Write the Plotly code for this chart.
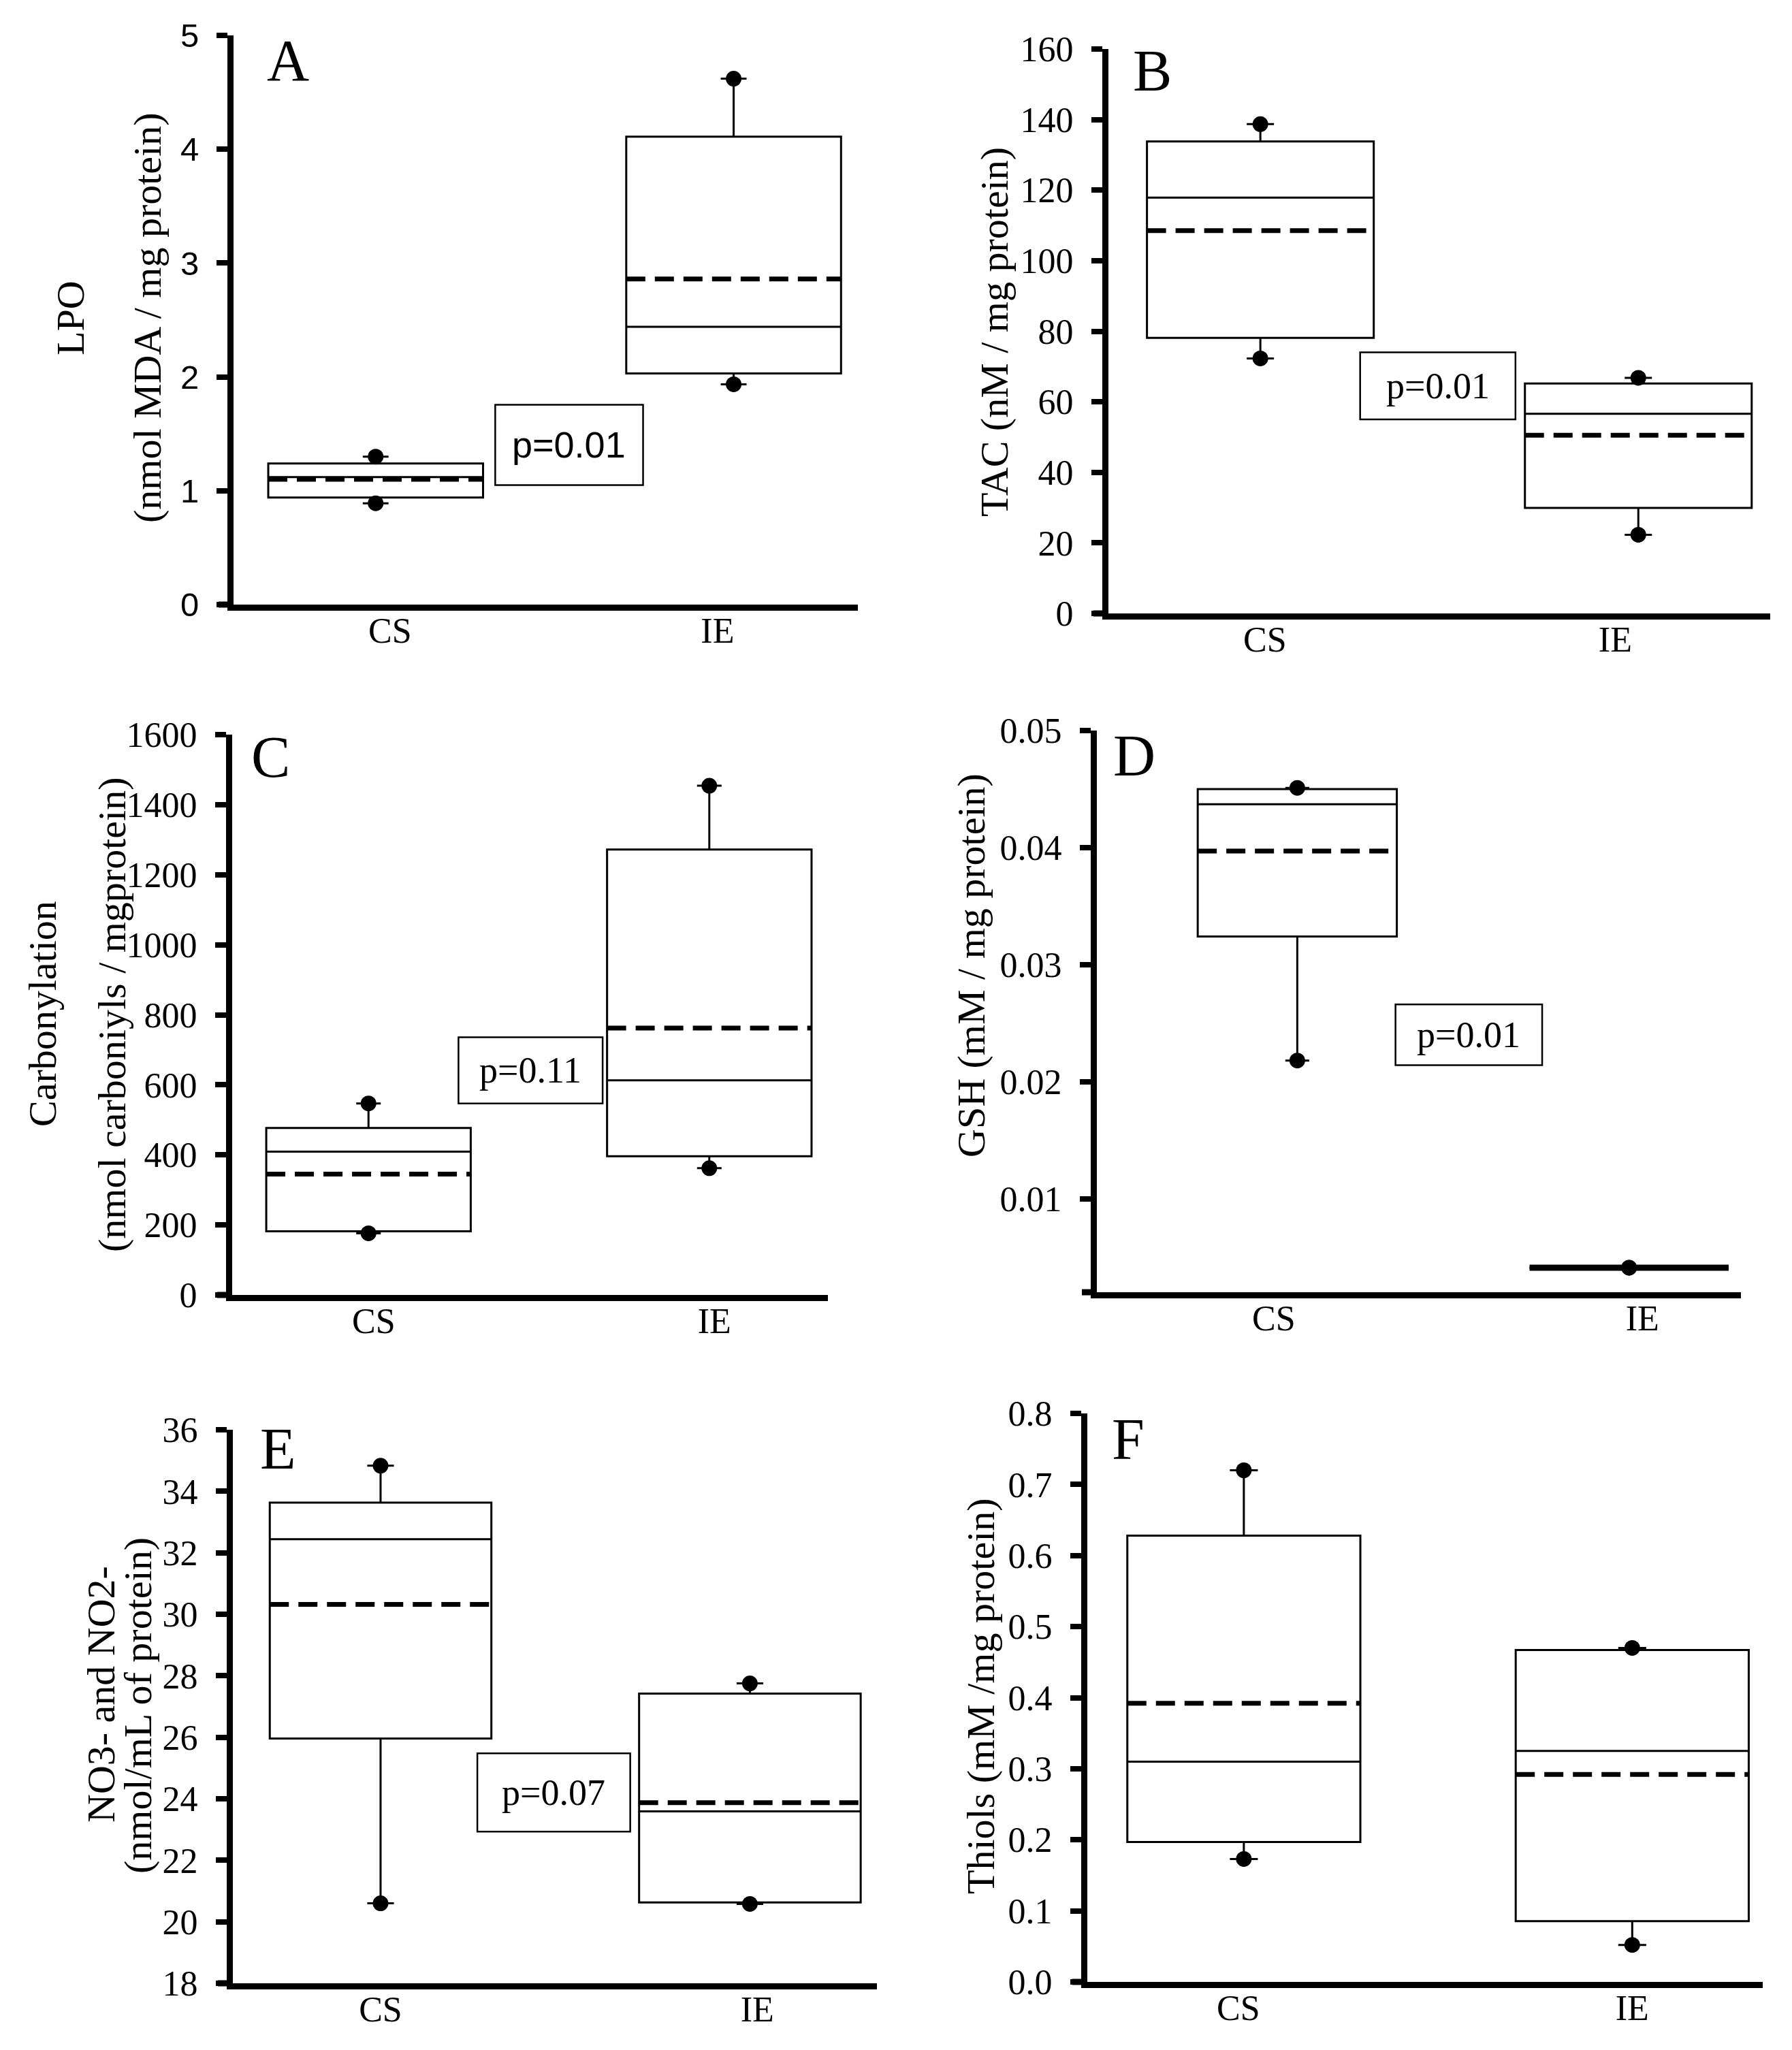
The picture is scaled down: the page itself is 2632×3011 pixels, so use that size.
import plotly.graph_objects as go

groups = ['CS', 'IE']
positions = [1, 2]

# A - LPO
lpo_low = [0.89, 1.935]
lpo_q1 = [0.94, 2.03]
lpo_median = [1.12, 2.44]
lpo_q3 = [1.24, 4.11]
lpo_high = [1.30, 4.62]
lpo_mean = [1.10, 2.86]

# B - TAC
tac_low = [72.3, 22.3]
tac_q1 = [78.1, 29.9]
tac_median = [117.9, 56.6]
tac_q3 = [133.8, 65.2]
tac_high = [138.7, 66.8]
tac_mean = [108.5, 50.5]

# C - Carbonylation
carb_low = [176, 362]
carb_q1 = [182, 396]
carb_median = [409, 613]
carb_q3 = [477, 1272]
carb_high = [547, 1454]
carb_mean = [345, 762]

# D - GSH
gsh_low = [0.0218, 0.0041]
gsh_q1 = [0.0324, 0.0041]
gsh_median = [0.0437, 0.0041]
gsh_q3 = [0.0450, 0.0041]
gsh_high = [0.0451, 0.0041]
gsh_mean = [0.0397, 0.0041]

# E - NO3- and NO2-
no_low = [20.6, 20.58]
no_q1 = [25.96, 20.63]
no_median = [32.44, 23.59]
no_q3 = [33.63, 27.42]
no_high = [34.83, 27.75]
no_mean = [30.32, 23.87]

# F - Thiols
thiol_low = [0.173, 0.052]
thiol_q1 = [0.197, 0.0854]
thiol_median = [0.31, 0.325]
thiol_q3 = [0.628, 0.467]
thiol_high = [0.72, 0.470]
thiol_mean = [0.392, 0.292]

p_values = ['p=0.01', 'p=0.01', 'p=0.11', 'p=0.01', 'p=0.07', None]

W, H = 2632, 3011
OFF = 8  # page body margin

panels = [
    dict(letter='A', data=(lpo_low, lpo_q1, lpo_median, lpo_q3, lpo_high, lpo_mean),
         px=(343, 52, 1260, 888), xr=[0.603, 2.347], yr=[0, 5], ytv=[0, 1, 2, 3, 4, 5], fmt='d',
         lab=[1.04, 1.955], tfont='Liberation Sans', tsize=49,
         titles=[('LPO', 103, 467), ('(nmol MDA / mg protein)', 216, 467)],
         lpos=(0.051, 0.956), pbox=(1.334, 1.747, 1.05, 1.756), pfont='Liberation Sans'),
    dict(letter='B', data=(tac_low, tac_q1, tac_median, tac_q3, tac_high, tac_mean),
         px=(1628, 72, 2600, 901), xr=[0.598, 2.349], yr=[0, 160], ytv=list(range(0, 161, 20)), fmt='d',
         lab=[1.012, 1.939], tfont='Liberation Serif', tsize=52,
         titles=[('TAC (nM / mg protein)', 1460, 488)],
         lpos=(0.035, 0.962), pbox=(1.264, 1.675, 55.0, 74.0), pfont='Liberation Serif'),
    dict(letter='C', data=(carb_low, carb_q1, carb_median, carb_q3, carb_high, carb_mean),
         px=(341, 1079, 1216, 1902), xr=[0.6, 2.348], yr=[0, 1600], ytv=list(range(0, 1601, 200)), fmt='d',
         lab=[1.015, 2.015], tfont='Liberation Serif', tsize=52,
         titles=[('Carbonylation', 62, 1489), ('(nmol carboniyls / mgprotein)', 164, 1491)],
         lpos=(0.030, 0.960), pbox=(1.264, 1.687, 547, 736), pfont='Liberation Serif'),
    dict(letter='D', data=(gsh_low, gsh_q1, gsh_median, gsh_q3, gsh_high, gsh_mean),
         px=(1611, 1073, 2557, 1898), xr=[0.396, 2.337], yr=[0.002, 0.05], ytv=[0.01, 0.02, 0.03, 0.04, 0.05], fmt='.2f',
         lab=[0.929, 2.04], tfont='Liberation Serif', tsize=52,
         titles=[('GSH (mM / mg protein)', 1426, 1418)],
         lpos=(0.023, 0.955), pbox=(1.296, 1.738, 0.0214, 0.0266), pfont='Liberation Serif'),
    dict(letter='E', data=(no_low, no_q1, no_median, no_q3, no_high, no_mean),
         px=(342, 2100, 1288, 2913), xr=[0.6, 2.344], yr=[18, 36], ytv=list(range(18, 37, 2)), fmt='d',
         lab=[1.0, 2.02], tfont='Liberation Serif', tsize=52,
         titles=[('NO3- and NO2-', 148, 2489), ('(nmol/mL of protein)', 202, 2505)],
         lpos=(0.040, 0.966), pbox=(1.262, 1.676, 22.93, 25.48), pfont='Liberation Serif'),
    dict(letter='F', data=(thiol_low, thiol_q1, thiol_median, thiol_q3, thiol_high, thiol_mean),
         px=(1597, 2076, 2589, 2911), xr=[0.597, 2.336], yr=[0, 0.8], ytv=[0, 0.1, 0.2, 0.3, 0.4, 0.5, 0.6, 0.7, 0.8], fmt='.1f',
         lab=[0.986, 2.0], tfont='Liberation Serif', tsize=52,
         titles=[('Thiols (mM /mg protein)', 1440, 2491)],
         lpos=(0.034, 0.954), pbox=None, pfont='Liberation Serif'),
]

fig = go.Figure()
annotations = []
shapes = []
half = 0.3

for i, p in enumerate(panels):
    n = '' if i == 0 else str(i + 1)
    xa, ya = 'x' + n, 'y' + n
    low, q1, med, q3, high, mean = p['data']

    # outlier dots (drawn under the boxes)
    fig.add_trace(go.Scatter(x=positions + positions, y=low + high, mode='markers',
                             marker=dict(color='black', size=23), xaxis=xa, yaxis=ya,
                             showlegend=False, hoverinfo='skip'))
    fig.add_trace(go.Box(x=positions, q1=q1, median=med, q3=q3, lowerfence=low, upperfence=high,
                         width=2 * half, whiskerwidth=0.12, fillcolor='white',
                         line=dict(color='black', width=3), boxpoints=False,
                         xaxis=xa, yaxis=ya, showlegend=False, hoverinfo='skip'))
    for c, m, a, b in zip(positions, mean, q1, q3):
        fig.add_trace(go.Scatter(x=[c - half, c + half], y=[m, m], mode='lines',
                                 line=dict(color='black', width=9 if a == b else 7,
                                           dash='solid' if a == b else '28px,14px'),
                                 xaxis=xa, yaxis=ya, showlegend=False, hoverinfo='skip'))

    x0, y0, x1, y1 = [v - OFF for v in p['px']]
    fig.layout['xaxis' + n] = dict(domain=[x0 / W, x1 / W], range=p['xr'], anchor=ya,
                                   showline=True, linecolor='black', linewidth=9,
                                   showgrid=False, zeroline=False, ticks='', ticklen=0,
                                   tickvals=p['lab'], ticktext=groups, automargin=False,
                                   tickfont=dict(family='Liberation Serif', size=52, color='black'),
                                   ticklabelstandoff=-15)
    fig.layout['yaxis' + n] = dict(domain=[1 - y1 / H, 1 - y0 / H], range=p['yr'], anchor=xa,
                                   showline=True, linecolor='black', linewidth=9,
                                   showgrid=False, zeroline=False, ticks='outside',
                                   ticklen=16, tickwidth=8, tickcolor='black', automargin=False,
                                   tickvals=p['ytv'], tickformat=p['fmt'],
                                   tickfont=dict(family=p['tfont'], size=p['tsize'], color='black'),
                                   ticklabelstandoff=16)

    # x axis line runs out to the end of the y ticks
    shapes.append(dict(type='line', xref='paper', yref=ya + ' domain',
                       x0=(x0 - 22) / W, x1=x0 / W, y0=0, y1=0,
                       line=dict(color='black', width=9)))

    annotations.append(dict(text=p['letter'], xref=xa + ' domain', yref=ya + ' domain',
                            x=p['lpos'][0], y=p['lpos'][1], xanchor='left', yanchor='middle',
                            showarrow=False, font=dict(family='Liberation Serif', size=86, color='black')))
    for txt, tx, ty in p['titles']:
        annotations.append(dict(text=txt, xref='paper', yref='paper', x=(tx - OFF) / W, y=1 - (ty - OFF) / H,
                                xanchor='center', yanchor='middle', textangle=-90, showarrow=False,
                                font=dict(family='Liberation Serif', size=58, color='black')))
    if p['pbox'] is not None:
        bx0, bx1, by0, by1 = p['pbox']
        shapes.append(dict(type='rect', xref=xa, yref=ya, x0=bx0, x1=bx1, y0=by0, y1=by1,
                           line=dict(color='black', width=2.5), fillcolor='white'))
        annotations.append(dict(text=p_values[i], xref=xa, yref=ya,
                                x=(bx0 + bx1) / 2, y=(by0 + by1) / 2, xanchor='center', yanchor='middle',
                                showarrow=False, font=dict(family=p['pfont'], size=54, color='black')))

fig.update_layout(width=W, height=H, margin=dict(l=0, r=0, t=0, b=0, pad=0, autoexpand=False),
                  paper_bgcolor='white', plot_bgcolor='white',
                  font=dict(family='Liberation Serif', color='black'),
                  annotations=annotations, shapes=shapes, showlegend=False)

fig.write_html("out.html")
